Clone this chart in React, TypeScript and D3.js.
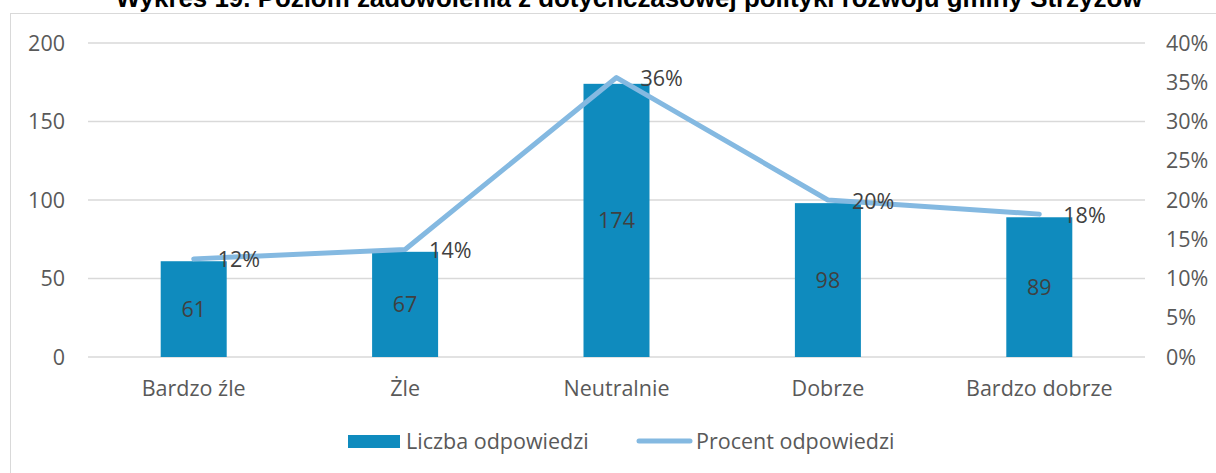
import React, { useEffect, useRef } from 'react';
import * as d3 from 'd3';

// chart data
const categories = ['Bardzo źle', 'Żle', 'Neutralnie', 'Dobrze', 'Bardzo dobrze'];
const counts = [61, 67, 174, 98, 89];
const percents = [12.5, 13.7, 35.6, 20.0, 18.2];
const percentLabels = ['12%', '14%', '36%', '20%', '18%'];
const leftTicks = [0, 50, 100, 150, 200];
const rightTicks = [0, 5, 10, 15, 20, 25, 30, 35, 40];

const title = 'Wykres 19. Poziom zadowolenia z dotychczasowej polityki rozwoju gminy Strzyżów';

const W = 1216, H = 473;
const BAR = '#0f8bbe';
const LINE = '#84b9e1';
const FONT = '"Open Sans", Roboto, sans-serif';
const FS = 21.5;

const App = () => {
  const ref = useRef<SVGSVGElement>(null);

  useEffect(() => {
    const svg = d3.select(ref.current);
    svg.selectAll('*').remove();

    // chart frame
    svg.append('rect')
      .attr('x', 10.5).attr('y', 13.5)
      .attr('width', 1240).attr('height', 500)
      .attr('fill', '#fff').attr('stroke', '#d9d9d9');

    svg.append('text')
      .attr('x', 629).attr('y', 6.5)
      .attr('text-anchor', 'middle')
      .attr('font-family', '"Liberation Sans", Arial, sans-serif')
      .attr('font-weight', 'bold').attr('font-size', 25.9)
      .attr('fill', '#000')
      .text(title);

    const x = d3.scaleBand().domain(categories).range([88, 1145]).paddingInner(0).paddingOuter(0);
    const yL = d3.scaleLinear().domain([0, 200]).range([357, 43]);
    const yR = d3.scaleLinear().domain([0, 40]).range([357, 43]);

    // gridlines
    svg.append('g').selectAll('line').data(leftTicks).join('line')
      .attr('x1', 88).attr('x2', 1145)
      .attr('y1', d => yL(d)).attr('y2', d => yL(d))
      .attr('stroke', '#d9d9d9').attr('stroke-width', 1.5);

    // left axis labels
    svg.append('g').selectAll('text').data(leftTicks).join('text')
      .attr('x', 65).attr('y', d => yL(d)).attr('dy', '0.35em')
      .attr('text-anchor', 'end')
      .attr('font-family', FONT).attr('font-size', FS).attr('fill', '#595959')
      .text(d => d);

    // right axis labels
    svg.append('g').selectAll('text').data(rightTicks).join('text')
      .attr('x', 1166).attr('y', d => yR(d)).attr('dy', '0.35em')
      .attr('text-anchor', 'start')
      .attr('font-family', FONT).attr('font-size', FS).attr('fill', '#595959')
      .text(d => d + '%');

    // category labels
    svg.append('g').selectAll('text').data(categories).join('text')
      .attr('x', d => x(d)! + x.bandwidth() / 2).attr('y', 388).attr('dy', '0.35em')
      .attr('text-anchor', 'middle')
      .attr('font-family', FONT).attr('font-size', FS).attr('fill', '#595959')
      .text(d => d);

    const barW = 66;
    const cx = (i: number) => x(categories[i])! + x.bandwidth() / 2;

    // bars
    svg.append('g').selectAll('rect').data(counts).join('rect')
      .attr('x', (d, i) => cx(i) - barW / 2)
      .attr('y', d => yL(d))
      .attr('width', barW)
      .attr('height', d => yL(0) - yL(d))
      .attr('fill', BAR);

    // bar value labels
    svg.append('g').selectAll('text').data(counts).join('text')
      .attr('x', (d, i) => cx(i))
      .attr('y', d => (yL(d) + yL(0)) / 2).attr('dy', '0.35em')
      .attr('text-anchor', 'middle')
      .attr('font-family', FONT).attr('font-size', FS).attr('fill', '#404040')
      .text(d => d);

    // percent line
    const line = d3.line<number>()
      .x((d, i) => cx(i))
      .y(d => yR(d));
    svg.append('path')
      .datum(percents)
      .attr('d', line)
      .attr('fill', 'none')
      .attr('stroke', LINE).attr('stroke-width', 5)
      .attr('stroke-linecap', 'round').attr('stroke-linejoin', 'round');

    // percent labels
    svg.append('g').selectAll('text').data(percents).join('text')
      .attr('x', (d, i) => cx(i) + 24)
      .attr('y', d => yR(d) + 1).attr('dy', '0.35em')
      .attr('text-anchor', 'start')
      .attr('font-family', FONT).attr('font-size', FS).attr('fill', '#404040')
      .text((d, i) => percentLabels[i]);

    // legend
    const lg = svg.append('g');
    lg.append('rect').attr('x', 348).attr('y', 435).attr('width', 52).attr('height', 13).attr('fill', BAR);
    lg.append('text').attr('x', 406).attr('y', 441).attr('dy', '0.35em')
      .attr('font-family', FONT).attr('font-size', FS).attr('fill', '#595959')
      .text('Liczba odpowiedzi');
    lg.append('line').attr('x1', 639).attr('x2', 690).attr('y1', 441).attr('y2', 441)
      .attr('stroke', LINE).attr('stroke-width', 5).attr('stroke-linecap', 'round');
    lg.append('text').attr('x', 696).attr('y', 441).attr('dy', '0.35em')
      .attr('font-family', FONT).attr('font-size', FS).attr('fill', '#595959')
      .text('Procent odpowiedzi');
  }, []);

  return (
    <svg ref={ref} width={W} height={H} style={{ position: 'absolute', left: 0, top: 0, display: 'block' }} />
  );
};

export default App;
